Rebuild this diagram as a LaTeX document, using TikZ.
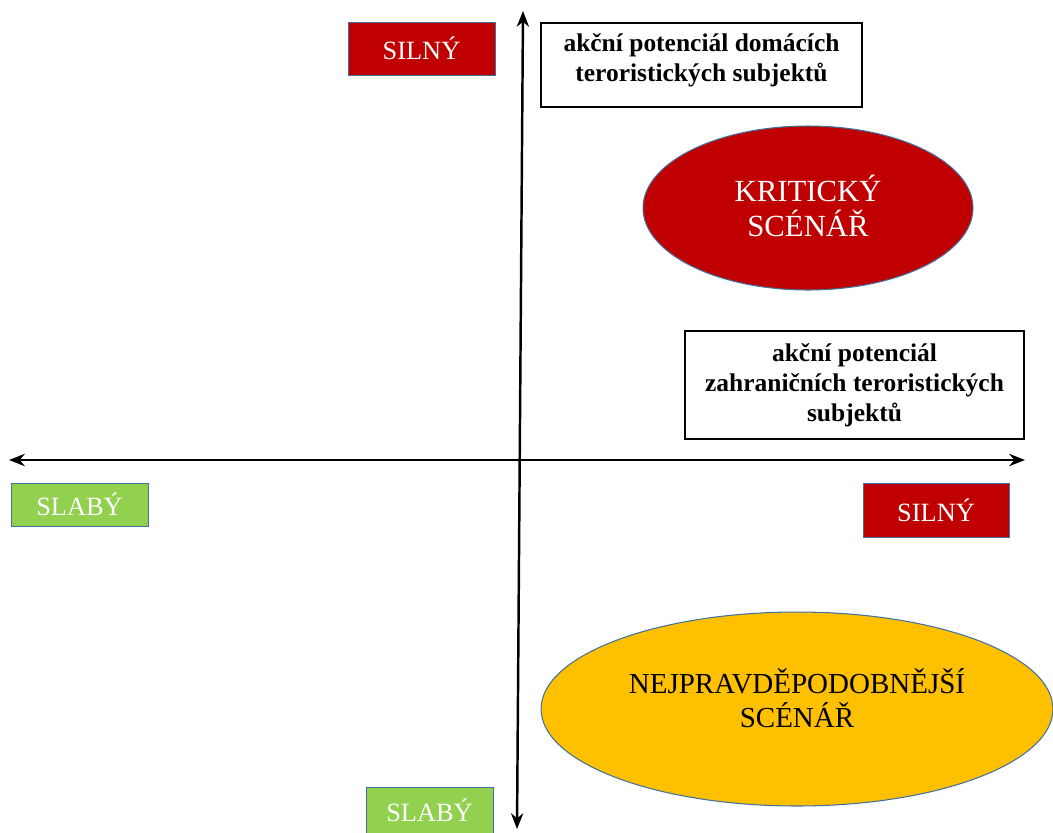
\documentclass[tikz,border=0pt]{standalone}
\usepackage{fontspec}
\setmainfont{Liberation Serif}
\usetikzlibrary{shapes.geometric,arrows.meta}
\definecolor{tmavered}{HTML}{C00000}
\definecolor{svetlezel}{HTML}{92D050}
\definecolor{zluta}{HTML}{FFC000}
\definecolor{okraj}{HTML}{41719C}
\begin{document}
\begin{tikzpicture}[x=0.02cm, y=-0.02cm,
    stitek/.style={draw=okraj, line width=0.5pt, inner sep=0pt, text=white, font=\fontsize{15}{17}\selectfont},
    popis/.style={draw=black, line width=0.8pt, fill=white, inner sep=0pt, align=center, font=\fontsize{14.5}{17}\selectfont\bfseries},
    scenar/.style={ellipse, draw=okraj, line width=0.6pt, inner sep=0pt},
    osa/.style={line width=1.4pt, {Stealth[length=9pt,width=7pt]}-{Stealth[length=9pt,width=7pt]}}]
    \useasboundingbox (0,0) rectangle (1053,832);
    % osy
    \coordinate (horni) at (523,11);
    \coordinate (dolni) at (517,829);
    \coordinate (leva) at (9,460);
    \coordinate (prava) at (1025,460);
    \draw[osa] (dolni) -- (horni);
    \draw[osa] (leva) -- (prava);
    % stitky
    \node[stitek, fill=tmavered, minimum width=2.94cm, minimum height=1.06cm] (silnyH) at (421.5,48.5) {SILNÝ};
    \node[stitek, fill=svetlezel, minimum width=2.74cm, minimum height=0.86cm] (slabyL) at (79.5,504.5) {SLABÝ};
    \node[stitek, fill=tmavered, minimum width=2.92cm, minimum height=1.08cm] (silnyP) at (936,510) {SILNÝ};
    \node[stitek, fill=svetlezel, minimum width=2.54cm, minimum height=0.96cm, anchor=north] (slabyD) at (429.5,787) {};
    \node[text=white, font=\fontsize{15}{17}\selectfont] at (429.5,810) {SLABÝ};
    % popisy os
    \node[popis, minimum width=6.42cm, minimum height=1.68cm] (domaci) at (701.5,65) {};
    \node[popis, draw=none, fill=none] at (701.5,60) {akční potenciál domácích\\teroristických subjektů};
    \node[popis, minimum width=6.78cm, minimum height=2.16cm] (zahranicni) at (854.5,385) {akční potenciál\\zahraničních teroristických\\subjektů};
    % scenare
    \node[scenar, fill=tmavered, minimum width=6.6cm, minimum height=3.28cm] (kriticky) at (808,208) {};
    \node[text=white, align=center, font=\fontsize{17.5}{19.5}\selectfont] at ([yshift=0.04cm]kriticky.center) {KRITICKÝ\\SCÉNÁŘ};
    \node[scenar, fill=zluta, minimum width=10.24cm, minimum height=3.88cm] (nejpravd) at (797,709) {};
    \node[align=center, font=\fontsize{16.5}{19}\selectfont] at ([yshift=0.22cm]nejpravd.center) {NEJPRAVDĚPODOBNĚJŠÍ\\SCÉNÁŘ};
\end{tikzpicture}
\end{document}
